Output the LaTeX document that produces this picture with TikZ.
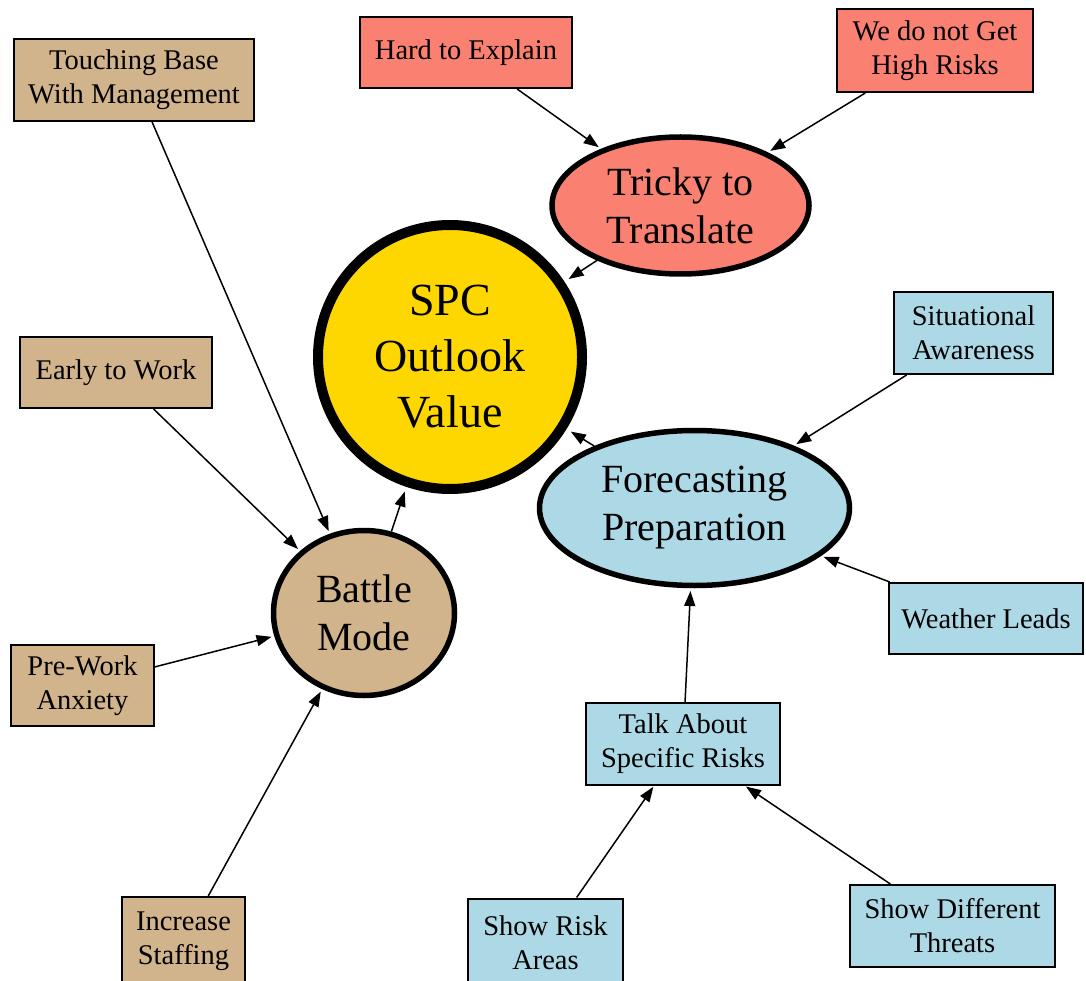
\documentclass[tikz,border=0pt]{standalone}
\usepackage{fontspec}
\setmainfont{Liberation Serif}
\usetikzlibrary{shapes.geometric,arrows.meta}
\definecolor{tanc}{HTML}{D2B48C}
\definecolor{salmonc}{HTML}{FA8072}
\definecolor{bluec}{HTML}{ADD8E6}
\definecolor{goldc}{HTML}{FFD700}
\tikzset{
  leaf/.style={draw=black, line width=2pt, rectangle, inner sep=0pt, align=center,
    font=\fontsize{28.5}{34}\selectfont},
  hub/.style={draw=black, line width=5.5pt, ellipse, inner sep=0pt, align=center,
    font=\fontsize{40}{48}\selectfont},
  core/.style={draw=black, line width=10pt, circle, inner sep=0pt, align=center,
    font=\fontsize{46}{56}\selectfont},
  link/.style={line width=1.5pt, -{Triangle[length=15pt,width=11pt]}},
  toCore/.style={link, shorten >=5pt},
  toHub/.style={link, shorten >=2.8pt},
  toLeaf/.style={link, shorten >=1pt}
}
\begin{document}
\begin{tikzpicture}[x=1pt,y=-1pt]
\useasboundingbox (0,0) rectangle (1086,981);
% central
\node[core, fill=goldc, minimum size=264pt] (spc) at (450,357) {SPC\\Outlook\\Value};
% hubs
\node[hub, fill=salmonc, minimum width=257pt, minimum height=137pt] (tt) at (680.5,205.5) {Tricky to\\Translate};
\node[hub, fill=bluec, minimum width=310pt, minimum height=155pt] (fp) at (694.5,508) {Forecasting\\Preparation};
\node[hub, fill=tanc, minimum width=181pt, minimum height=165pt] (bm) at (364,613) {Battle\\Mode};
% tan leaves
\node[leaf, fill=tanc, minimum width=240pt, minimum height=82pt] (tb) at (134,80) {Touching Base\\With Management};
\node[leaf, fill=tanc, minimum width=192pt, minimum height=71pt] (ew) at (116,372.5) {Early to Work};
\node[leaf, fill=tanc, minimum width=143pt, minimum height=81pt] (pw) at (82.5,685.5) {Pre-Work\\Anxiety};
\node[leaf, fill=tanc, minimum width=123pt, minimum height=88pt] (is) at (183.5,941) {Increase\\Staffing};
% salmon leaves
\node[leaf, fill=salmonc, minimum width=212pt, minimum height=71pt] (he) at (466,52.5) {Hard to Explain};
\node[leaf, fill=salmonc, minimum width=196pt, minimum height=83pt] (wd) at (935,50.5) {We do not Get\\High Risks};
% blue leaves
\node[leaf, fill=bluec, minimum width=159pt, minimum height=82pt] (sa) at (973.5,333) {Situational\\Awareness};
\node[leaf, fill=bluec, minimum width=194pt, minimum height=71pt] (wl) at (986,618.5) {Weather Leads};
\node[leaf, fill=bluec, minimum width=194pt, minimum height=82pt] (ta) at (683,744) {Talk About\\Specific Risks};
\node[leaf, fill=bluec, minimum width=155pt, minimum height=88pt] (sr) at (545.5,942.5) {Show Risk\\Areas};
\node[leaf, fill=bluec, minimum width=205pt, minimum height=82pt] (sd) at (952.5,926) {Show Different\\Threats};
% connectors
\draw[toHub] (tb) -- (bm);
\draw[toHub] (ew) -- (bm);
\draw[toHub] (pw) -- (bm);
\draw[toHub] (is) -- (bm);
\draw[toCore] (bm) -- (spc);
\draw[toHub] (he) -- (tt);
\draw[toHub] (wd) -- (tt);
\draw[toCore] (tt) -- (spc);
\draw[toHub] (sa) -- (fp);
\draw[toHub] (wl) -- (fp);
\draw[toHub] (ta) -- (fp);
\draw[toCore] (fp) -- (spc);
\draw[toLeaf] (sr) -- (ta);
\draw[toLeaf] (sd) -- (ta);
\end{tikzpicture}
\end{document}
